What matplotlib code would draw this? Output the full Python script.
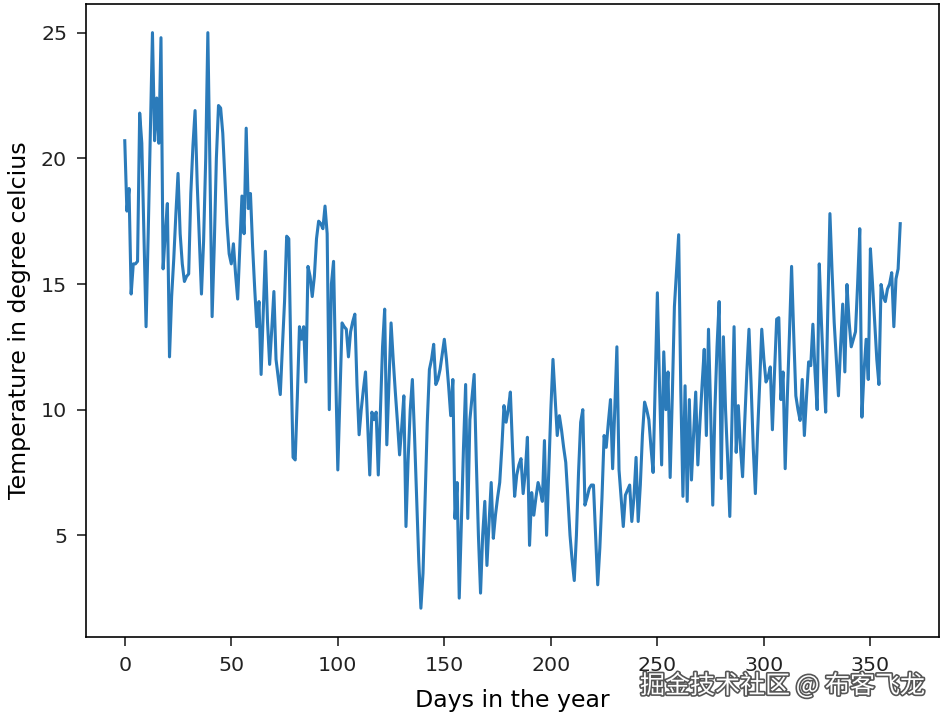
import matplotlib
matplotlib.use('Agg')
import matplotlib.pyplot as plt
import matplotlib.patheffects as pe
import numpy as np

# daily temperatures (degree celcius)
temp_jan = [20.7, 17.9, 18.8, 14.6, 15.8, 15.8, 15.9, 21.8, 20.6, 17.0,
            13.3, 17.0, 21.0, 25.0, 20.7, 22.4, 20.6, 24.8, 15.6, 17.0,
            18.2, 12.1, 14.5, 16.0, 17.8, 19.4, 17.0, 15.8, 15.1, 15.3,
            15.4]
temp_feb = [18.6, 20.5, 21.9, 19.0, 16.8, 14.6, 16.7, 20.0, 25.0, 19.5,
            13.7, 16.5, 20.0, 22.1, 22.0, 21.0, 19.2, 17.4, 16.2, 15.8,
            16.6, 15.4, 14.4, 16.5, 18.5, 17.0, 21.2, 18.0]
temp_mar = [18.6, 16.5, 14.8, 13.3, 14.3, 11.4, 13.8, 16.3, 13.5, 11.8,
            13.2, 14.7, 12.0, 11.3, 10.6, 12.5, 14.3, 16.9, 16.8, 12.0,
            8.1, 8.0, 10.5, 13.3, 12.8, 13.3, 11.1, 15.7, 15.3, 14.5,
            15.3]
temp_apr = [16.8, 17.5, 17.4, 17.2, 18.1, 17.0, 10.0, 15.0, 15.9, 11.5,
            7.6, 10.5, 13.45, 13.3, 13.2, 12.1, 13.1, 13.5, 13.8, 11.0,
            9.0, 10.0, 10.8, 11.5, 9.5, 7.4, 9.9, 9.6, 9.9, 7.4]
temp_may = [10.0, 12.5, 14.0, 8.6, 11.0, 13.45, 12.0, 10.7, 9.5, 8.2,
            9.3, 10.55, 5.35, 8.0, 10.0, 11.2, 9.0, 6.5, 4.0, 2.1,
            3.5, 6.5, 9.5, 11.6, 12.0, 12.6, 11.0, 11.2, 11.6, 12.2,
            12.8]
temp_jun = [12.0, 10.95, 9.76, 11.2, 5.67, 7.1, 2.5, 5.5, 8.5, 11.0,
            5.67, 9.6, 10.5, 11.4, 8.0, 5.0, 2.7, 5.0, 6.35, 3.8,
            5.5, 7.1, 4.88, 5.8, 6.5, 7.1, 8.5, 10.16, 9.5, 10.0]
temp_jul = [10.7, 8.5, 6.55, 7.4, 7.8, 8.05, 6.66, 7.5, 8.9, 4.6,
            6.7, 5.8, 6.5, 7.1, 6.8, 6.35, 8.77, 5.0, 7.5, 10.0,
            12.0, 10.5, 8.97, 9.76, 9.2, 8.5, 7.9, 6.5, 5.0, 4.0,
            3.2]
temp_aug = [5.0, 7.5, 9.5, 10.0, 6.2, 6.5, 6.86, 7.0, 7.0, 5.0,
            3.03, 4.5, 6.5, 8.97, 8.5, 9.5, 10.4, 7.65, 10.0, 12.5,
            7.6, 6.5, 5.35, 6.6, 6.8, 7.0, 5.55, 6.5, 8.1, 5.55,
            7.0]
temp_sep = [9.0, 10.3, 10.0, 9.6, 8.5, 7.5, 11.0, 14.65, 11.0, 7.8,
            12.3, 10.0, 11.5, 7.3, 10.5, 14.1, 15.5, 16.96, 10.75, 6.55,
            10.95, 6.35, 10.4, 7.2, 9.0, 10.7, 7.8, 9.5, 11.0, 12.4]
temp_oct = [8.97, 13.2, 10.0, 6.2, 10.0, 12.5, 14.3, 7.26, 12.9, 10.0,
            8.0, 5.75, 9.5, 13.3, 8.3, 10.16, 8.5, 7.33, 9.5, 11.5,
            13.2, 11.0, 8.5, 6.66, 9.0, 11.0, 13.2, 12.0, 11.1, 11.3,
            11.7]
temp_nov = [9.2, 11.5, 13.6, 13.66, 10.4, 11.5, 7.65, 10.5, 13.0, 15.7,
            13.0, 10.55, 10.0, 9.57, 11.2, 8.97, 10.5, 11.9, 11.75, 13.4,
            11.5, 10.0, 15.8, 13.5, 11.5, 9.9, 14.0, 17.8, 15.5, 13.47]
temp_dec = [12.0, 10.55, 12.5, 14.2, 11.5, 14.98, 13.5, 12.5, 12.8, 13.1,
            15.0, 17.2, 9.7, 11.5, 12.8, 11.2, 16.4, 15.0, 13.5, 12.0,
            11.0, 14.98, 14.5, 14.3, 14.8, 15.0, 15.45, 13.3, 15.2, 15.6,
            17.4]

temperature = (temp_jan + temp_feb + temp_mar + temp_apr + temp_may + temp_jun
               + temp_jul + temp_aug + temp_sep + temp_oct + temp_nov + temp_dec)
days = np.arange(len(temperature))

fig, ax = plt.subplots(figsize=(6.4, 4.857), dpi=147.65)
fig.subplots_adjust(left=0.091, right=0.9937, top=0.9944, bottom=0.1116)

ax.plot(days, temperature, color='#2b7bba')
ax.tick_params(length=4.2, pad=5, labelsize=10, colors='#222222')
ax.set_xlabel('Days in the year', fontsize=11.5, labelpad=7)
ax.set_ylabel('Temperature in degree celcius', fontsize=11.5, labelpad=5)

# site watermark in the lower right corner
fig.text(640 / 945, 1 - 686 / 717, '掘金技术社区 @ 布客飞龙',
         family=['Noto Sans CJK SC', 'DejaVu Sans'], fontsize=12.2,
         color='white', ha='left', va='center',
         path_effects=[pe.withStroke(linewidth=1.6, foreground='#555555')])

fig.savefig('out.png', dpi=147.65)
